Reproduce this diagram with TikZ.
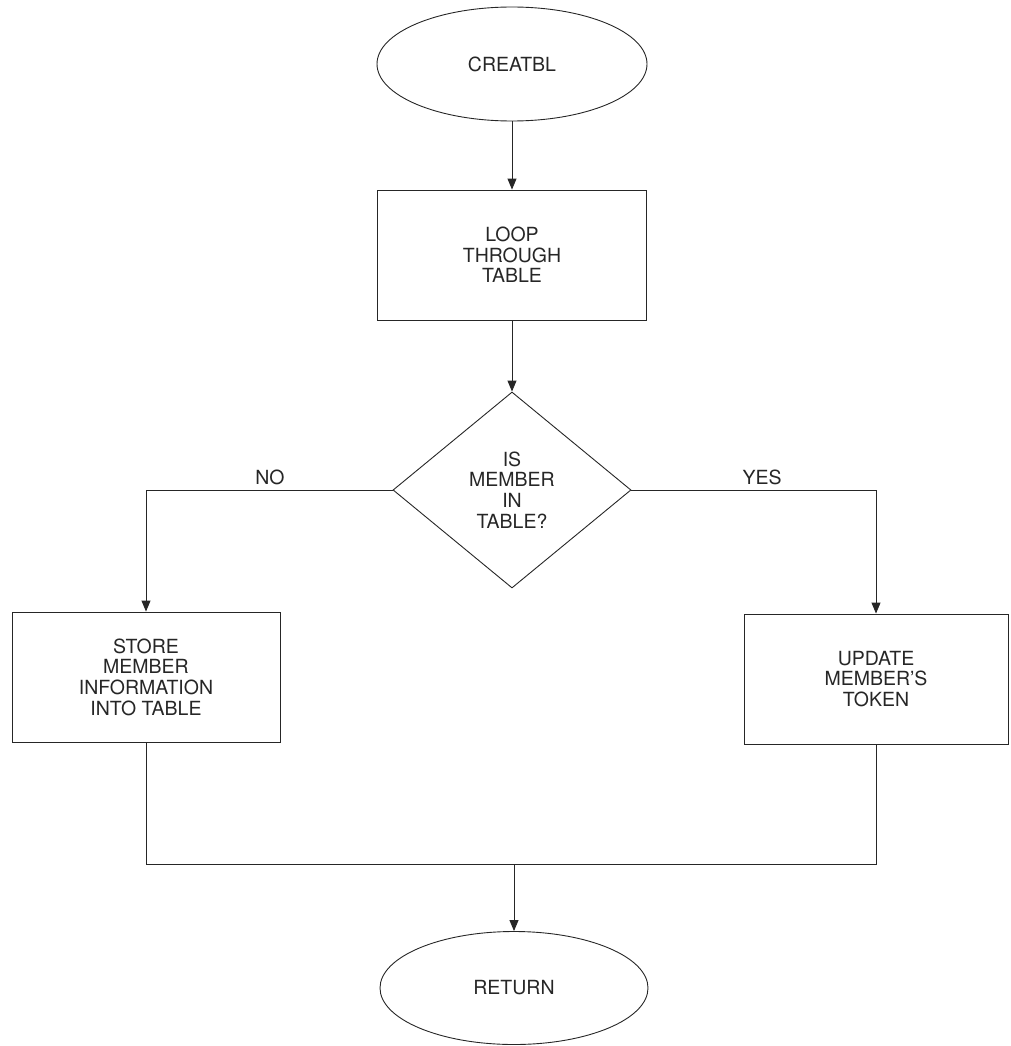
\documentclass[tikz,border=0pt]{standalone}
\usepackage{fontspec}
\setmainfont{TeX Gyre Heros}
\usetikzlibrary{shapes.geometric,arrows.meta}
\tikzset{
  base/.style={draw=black!85, line width=0.9pt, text=black!85, align=center, inner sep=0pt,
    font=\fontsize{19.5}{20.6}\selectfont},
  term/.style={base, ellipse},
  proc/.style={base, rectangle},
  decision/.style={base, diamond},
  conn/.style={draw=black!85, line width=0.9pt},
  arr/.style={conn, -{Triangle[length=11pt,width=9pt]}},
  lbl/.style={text=black!85, font=\fontsize{19.5}{20.6}\selectfont, inner sep=0pt}
}
\begin{document}
\begin{tikzpicture}[x=1pt,y=-1pt]
\useasboundingbox (0,0) rectangle (1010,1046);
\node[term, minimum width=270pt, minimum height=114pt] (start) at (512,64) {CREATBL};
\node[proc, minimum width=269pt, minimum height=130pt] (loop) at (512,255) {LOOP\\THROUGH\\TABLE};
\node[decision, minimum width=238pt, minimum height=196pt, aspect=1.214] (dec) at (512,490) {IS\\MEMBER\\IN\\TABLE?};
\node[proc, minimum width=268pt, minimum height=130pt] (store) at (146,677) {STORE\\MEMBER\\INFORMATION\\INTO TABLE};
\node[proc, minimum width=264pt, minimum height=130pt] (update) at (876,679) {UPDATE\\MEMBER'S\\TOKEN};
\node[term, minimum width=268pt, minimum height=113pt] (ret) at (514,988) {RETURN};
\coordinate (m) at (514,864);
\draw[arr] (start.south) -- (loop.north);
\draw[arr] (loop.south) -- (dec.north);
\draw[arr] (dec.west) -| (store.north);
\draw[arr] (dec.east) -| (update.north);
\node[lbl] (no) at (270,477) {NO};
\node[lbl] (yes) at (762,477) {YES};
\draw[conn] (store.south) |- (m) -| (update.south);
\draw[arr] (m) -- (ret.north);
\end{tikzpicture}
\end{document}
